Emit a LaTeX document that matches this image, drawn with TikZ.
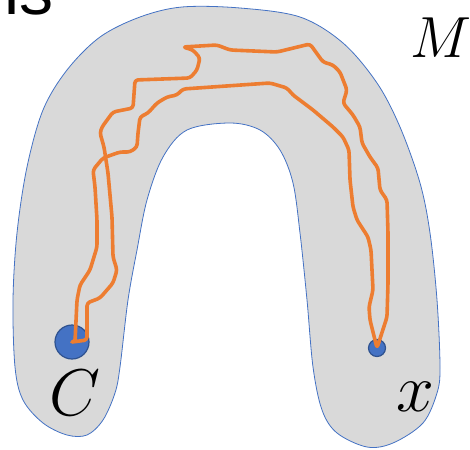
\RequirePackage{fix-cm}
\documentclass[tikz,border=0pt]{standalone}
\usepackage{fontspec}
\newfontfamily\arialfont{Liberation Sans}
\definecolor{regiongray}{RGB}{217,217,217}
\definecolor{edgeblue}{RGB}{68,114,196}
\definecolor{dotedge}{RGB}{47,82,143}
\definecolor{pathorange}{RGB}{237,125,49}
\tikzset{
  region/.style={fill=regiongray, draw=edgeblue, line width=0.8pt},
  walk/.style={draw=pathorange, line width=3.6pt, rounded corners=3pt, line join=round, line cap=round},
  bigdot/.style={circle, fill=edgeblue, draw=dotedge, line width=1.2pt, minimum size=34pt, inner sep=0pt},
  smalldot/.style={circle, fill=edgeblue, draw=dotedge, line width=1.2pt, minimum size=17pt, inner sep=0pt},
  mathlabel/.style={inner sep=0pt}
}
\begin{document}
\begin{tikzpicture}[x=1pt,y=-1pt]
\useasboundingbox (0,0) rectangle (470,449);
\clip (0,0) rectangle (470,449);
% top-left fragment of text
\node[anchor=base west, inner sep=0pt] (frag) at (4,15) {\arialfont\fontsize{68}{68}\selectfont is};
% the region M
\draw[region] plot[smooth cycle, tension=0.55] coordinates {
 (182,7) (140,17) (100,37) (67,70) (43,110) (27,167) (17,233) (13,300) (15,367) (23,400)
 (43,423) (67,435) (87,435) (103,420) (115,393) (120,367) (128,300) (137,250) (147,200)
 (163,157) (187,130) (230,123) (260,130) (280,150) (293,183) (300,233) (307,300) (313,367)
 (322,410) (337,433) (367,447) (393,443) (423,423) (437,393) (440,367) (437,300) (430,233)
 (420,183) (400,127) (377,83) (343,43) (300,17) (240,8)};
% points
\node[bigdot] (C) at (72,342) {};
\node[smalldot] (X) at (377,348) {};
% orange loop from C to x and back
\draw[walk] (C.center) -- (87,340) -- (87,303) -- (100,298) -- (113,283) -- (117,270) -- (113,257)
 -- (112,217) -- (108,173) -- (104,147) -- (100,133) -- (102,127) -- (113,112) -- (133,108)
 -- (135,80) -- (190,78) -- (197,70) -- (200,58) -- (193,50) -- (183,47) -- (217,45) -- (230,50)
 -- (277,52) -- (310,44) -- (323,62) -- (333,65) -- (340,72) -- (347,90) -- (343,103) -- (353,115)
 -- (360,127) -- (362,143) -- (370,157) -- (378,168) -- (380,190) -- (387,200) -- (388,233)
 -- (388,283) -- (387,317) -- (X.center) -- (370,320) -- (369,307) -- (373,290) -- (371,250)
 -- (368,237) -- (357,220) -- (353,207) -- (350,180) -- (349,150) -- (343,137) -- (333,127)
 -- (313,110) -- (293,95) -- (287,88) -- (270,83) -- (183,89) -- (177,95) -- (167,97) -- (157,103)
 -- (148,113) -- (140,117) -- (138,133) -- (137,147) -- (130,152) -- (120,152) -- (103,158)
 -- (93,170) -- (95,187) -- (97,220) -- (97,247) -- (90,270) -- (80,285) -- (77,300) -- (75,342)
 -- (C.center);
% labels
\node[mathlabel] (Clabel) at (75,393) {\fontsize{66}{66}\selectfont$C$};
\node[mathlabel] (xlabel) at (415,397) {\fontsize{68}{68}\selectfont$x$};
\node[mathlabel] (Mlabel) at (441,38) {\fontsize{58}{58}\selectfont$M$};
\end{tikzpicture}
\end{document}
